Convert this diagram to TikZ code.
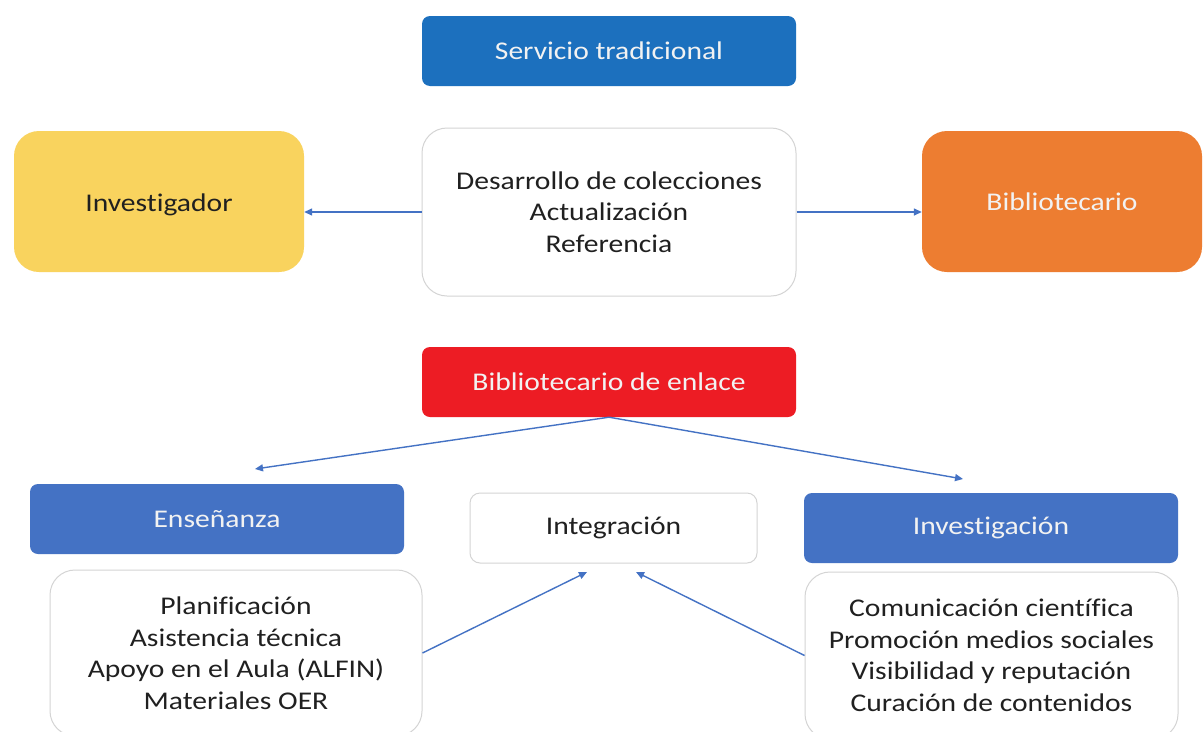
\documentclass[tikz,border=0pt]{standalone}
\usepackage{fontspec}
\setmainfont[FakeStretch=1.16,Ligatures=NoCommon]{Carlito}
\usetikzlibrary{arrows.meta}
\definecolor{hdrblue}{RGB}{28,112,190}
\definecolor{secblue}{RGB}{68,114,196}
\definecolor{gold}{RGB}{249,211,94}
\definecolor{orng}{RGB}{237,125,49}
\definecolor{redbox}{RGB}{237,28,36}
\definecolor{edgegray}{RGB}{212,212,212}
\definecolor{txtdark}{RGB}{32,32,32}
\definecolor{arrowblue}{RGB}{68,114,196}
\tikzset{
  box/.style={rectangle, align=center, inner sep=0pt, font=\fontsize{25.5}{31.5}\selectfont},
  filled/.style={box, text=white!95!black},
  plain/.style={box, draw=edgegray, line width=1pt, fill=white, text=txtdark},
  conn/.style={draw=arrowblue, line width=1.4pt, -{Triangle[length=8pt,width=7pt]}}
}
\begin{document}
\begin{tikzpicture}[x=1pt,y=-1pt]
\useasboundingbox (0,0) rectangle (1204,731);
\clip (0,0) rectangle (1204,731);
\fill[white] (0,0) rectangle (1204,731);
% top section
\node[filled, fill=hdrblue, rounded corners=8pt, minimum width=374pt, minimum height=70pt] (serv) at (609,51) {Servicio tradicional};
\node[box, fill=gold, text=txtdark, rounded corners=25pt, minimum width=290pt, minimum height=141pt, text height=19pt, text depth=0pt] (inv) at (159,201.5) {Investigador};
\node[plain, rounded corners=25pt, minimum width=374pt, minimum height=168pt] (trad) at (609,212) {Desarrollo de colecciones\\Actualización\\Referencia};
\node[filled, fill=orng, rounded corners=25pt, minimum width=280pt, minimum height=141pt, text height=17pt, text depth=0pt] (bib) at (1062,201.5) {Bibliotecario};
\draw[conn] (trad.west) -- (inv.east |- trad.west);
\draw[conn] (trad.east) -- (bib.west |- trad.east);
% bottom section
\node[filled, fill=redbox, rounded corners=8pt, minimum width=374pt, minimum height=70pt] (enl) at (609,382) {Bibliotecario de enlace};
\node[filled, fill=secblue, rounded corners=8pt, minimum width=374pt, minimum height=70pt] (ens) at (217,519) {Enseñanza};
\node[plain, rounded corners=10pt, minimum width=287pt, minimum height=70pt] (integ) at (613.5,528) {Integración};
\node[filled, fill=secblue, rounded corners=8pt, minimum width=374pt, minimum height=70pt] (invg) at (991,528) {Investigación};
\node[plain, rounded corners=25pt, minimum width=372pt, minimum height=166pt] (ensl) at (236,653) {Planificación\\Asistencia técnica\\Apoyo en el Aula (ALFIN)\\Materiales OER};
\node[plain, rounded corners=25pt, minimum width=373pt, minimum height=167pt] (invl) at (991.5,655.5) {Comunicación científica\\Promoción medios sociales\\Visibilidad y reputación\\Curación de contenidos};
\coordinate (ensin) at (255,469);
\coordinate (invin) at (963,479);
\coordinate (intl) at (587,572);
\coordinate (intr) at (636,572);
\draw[conn] (enl.south) -- (ensin);
\draw[conn] (enl.south) -- (invin);
\draw[conn] (ensl.east) -- (intl);
\draw[conn] (invl.west) -- (intr);
\end{tikzpicture}
\end{document}
